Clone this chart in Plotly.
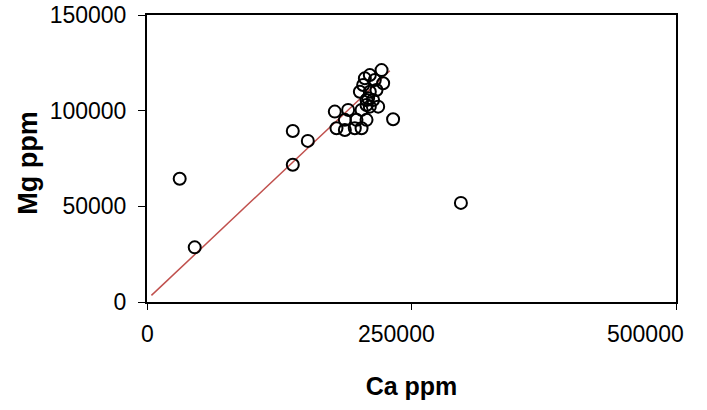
import plotly.graph_objects as go

ca_ppm = [30900, 45100, 137800, 137800, 152000, 177500, 190100, 187000, 179100, 187000,
          198000, 196400, 202800, 207500, 210600, 207500, 221700, 205900, 210600, 215300,
          223200, 204300, 201200, 210600, 216900, 209000, 213700, 207500, 218500, 202800,
          232600, 296700]
mg_ppm = [64400, 28550, 89400, 71700, 84200, 99500, 100400, 95200, 90800, 89900,
          95200, 90800, 90800, 95200, 102100, 105600, 121200, 116900, 118600, 116000,
          114300, 113400, 109900, 109900, 110800, 106500, 105600, 103000, 102100, 100400,
          95500, 51800]

trend_x = [4200, 229500]
trend_y = [3440, 120900]

x_ticks = [0, 250000, 500000]
y_ticks = [0, 50000, 100000, 150000]

fig = go.Figure()
fig.add_trace(go.Scatter(x=trend_x, y=trend_y, mode="lines",
                         line=dict(color="#C0504D", width=1.5), hoverinfo="skip"))
fig.add_trace(go.Scatter(x=ca_ppm, y=mg_ppm, mode="markers",
                         marker=dict(symbol="circle-open", size=12,
                                     line=dict(color="black", width=2), color="black")))

font_family = "Liberation Sans, Arial, sans-serif"

# x tick labels drawn as annotations (Excel places them slightly left of the ticks)
for i, v in enumerate(x_ticks):
    fig.add_annotation(x=v, xref="x", y=0, yref="paper", text=str(v),
                       showarrow=False, xanchor="center", yanchor="middle",
                       xshift=-15.5 * i, yshift=-32,
                       font=dict(family=font_family, size=23, color="black"))

# y axis title
fig.add_annotation(x=-0.225, xref="paper", y=0.485, yref="paper", text="<b>Mg ppm</b>",
                   textangle=-90, showarrow=False, xanchor="center", yanchor="middle",
                   font=dict(family=font_family, size=27, color="black"))

fig.update_layout(
    width=707, height=410,
    margin=dict(l=147, r=31, t=15, b=108),
    paper_bgcolor="white", plot_bgcolor="white",
    showlegend=False,
    font=dict(family=font_family, color="black", size=23),
    xaxis=dict(range=[0, 500000], tickvals=x_ticks, showticklabels=False,
               showgrid=False, zeroline=False, showline=True, linecolor="black", linewidth=2,
               mirror=True, ticks="outside", ticklen=6, tickcolor="black", tickwidth=1,
               automargin=False,
               title=dict(text="<b>Ca ppm</b>", font=dict(size=25), standoff=68)),
    yaxis=dict(range=[0, 150000], tickvals=y_ticks, ticktext=[str(v) for v in y_ticks],
               showgrid=False, zeroline=False, showline=True, linecolor="black", linewidth=2,
               mirror=True, ticks="outside", ticklen=7, tickcolor="black", tickwidth=1,
               tickfont=dict(size=23), ticklabelstandoff=7, automargin=False),
)

fig.write_html("out.html")
